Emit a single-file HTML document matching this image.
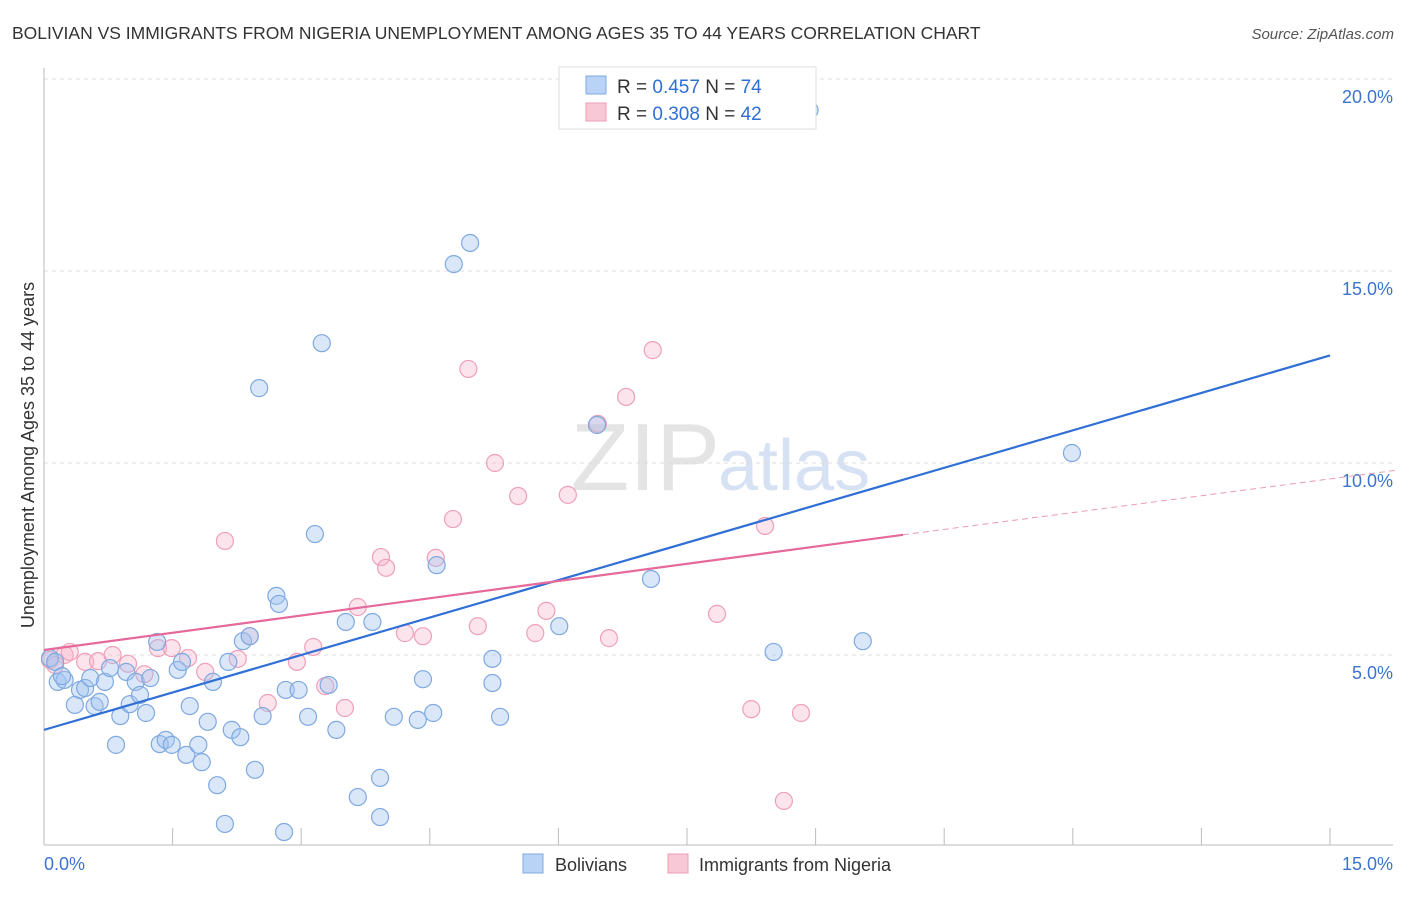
<!DOCTYPE html>
<html><head><meta charset="utf-8"><style>
body{margin:0;background:#fff;font-family:"Liberation Sans",sans-serif;}
svg text{font-family:"Liberation Sans",sans-serif;}
</style></head><body>
<svg id="chart" width="1406" height="892" xmlns="http://www.w3.org/2000/svg">
<text x="12" y="39" font-size="17.5" fill="#333">BOLIVIAN VS IMMIGRANTS FROM NIGERIA UNEMPLOYMENT AMONG AGES 35 TO 44 YEARS CORRELATION CHART</text>
<text x="1394" y="39" font-size="15" fill="#555" font-style="italic" text-anchor="end">Source: ZipAtlas.com</text>
<text x="720" y="490" font-size="96" fill="#e4e4e4" text-anchor="end" font-family="Liberation Serif">ZIP</text>
<text x="718" y="490" font-size="72" fill="#d6e2f3">atlas</text>
<g id="grid"></g><g id="axes"></g><g id="pts"></g><g id="lines"></g>
<text transform="translate(34,455) rotate(-90)" font-size="18" fill="#333" text-anchor="middle">Unemployment Among Ages 35 to 44 years</text>
<g>
<rect x="559" y="67" width="257" height="62" fill="#fff" stroke="#ddd"/>
<rect x="586" y="76" width="20" height="18" fill="#b8d3f5" stroke="#7fa9e0"/>
<rect x="586" y="103" width="20" height="18" fill="#f9c8d6" stroke="#ee9cb6"/>
<text x="617" y="93" font-size="19" fill="#333">R = <tspan fill="#2f6fd6">0.457</tspan>   N = <tspan fill="#2f6fd6">74</tspan></text>
<text x="617" y="120" font-size="19" fill="#333">R = <tspan fill="#2f6fd6">0.308</tspan>   N = <tspan fill="#2f6fd6">42</tspan></text>
</g>
<g>
<rect x="523" y="854" width="20" height="19" fill="#b8d3f5" stroke="#7fa9e0"/>
<text x="555" y="871" font-size="18" fill="#333">Bolivians</text>
<rect x="668" y="854" width="20" height="19" fill="#f9c8d6" stroke="#ee9cb6"/>
<text x="699" y="871" font-size="18" fill="#333">Immigrants from Nigeria</text>
</g>
</svg>
<script>
const blueX=[0.07,0.13,0.16,0.24,0.21,0.36,0.42,0.48,0.54,0.59,0.65,0.71,0.77,0.84,0.89,0.96,1.00,1.07,1.12,1.19,1.24,1.32,1.35,1.42,1.49,1.56,1.61,1.66,1.70,1.80,1.84,1.91,1.97,2.02,2.11,2.15,2.19,2.29,2.32,2.40,2.46,2.51,2.55,2.71,2.74,2.80,2.82,2.97,3.08,3.16,3.24,3.32,3.41,3.52,3.66,3.83,3.92,3.92,4.08,4.36,4.42,4.54,4.58,4.78,4.97,5.23,5.23,5.32,6.01,6.45,7.08,8.51,8.93,9.55,11.99];
const blueY=[4.92,4.82,4.30,4.35,4.45,3.70,4.09,4.14,4.40,3.67,3.78,4.30,4.66,2.66,3.41,4.56,3.72,4.30,3.96,3.49,4.40,5.34,2.68,2.79,2.66,4.61,4.82,2.40,3.67,2.66,2.21,3.26,4.30,1.61,0.60,4.82,3.05,2.86,5.36,5.49,2.01,11.95,3.41,6.54,6.33,0.39,4.09,4.09,3.39,8.15,13.12,4.22,3.05,5.86,1.30,5.86,1.80,0.78,3.39,3.31,4.37,3.49,7.34,15.18,15.73,4.90,4.27,3.39,5.75,10.99,6.98,5.08,19.19,5.36,10.26];
const pinkX=[0.07,0.13,0.24,0.30,0.48,0.63,0.80,0.98,1.17,1.33,1.49,1.68,1.88,2.11,2.26,2.40,2.61,2.95,3.14,3.28,3.51,3.66,3.93,3.99,4.21,4.42,4.57,4.77,4.95,5.06,5.26,5.53,5.73,5.86,6.11,6.46,6.59,6.79,7.10,7.85,8.25,8.41,8.63,8.83];
const pinkY=[4.87,4.74,5.00,5.08,4.82,4.84,5.00,4.77,4.50,5.18,5.18,4.92,4.56,7.97,4.90,5.49,3.75,4.82,5.21,4.19,3.62,6.25,7.55,7.27,5.57,5.49,7.53,8.54,12.45,5.75,10.00,9.14,5.57,6.15,9.17,11.02,5.44,11.72,12.94,6.07,3.59,8.36,1.20,3.49];
const blueTrend=[3.05,12.8]; // at x=0 and x=15
const pinkTrend=[5.13,8.13,9.82]; // at x=0, x=10.02 (solid end), x=15.8
const yTicks=[5,10,15,20];
const xTickLabels=["0.0%","15.0%"];
const NS="http://www.w3.org/2000/svg";
const sx=v=>44+v/15*1286, sy=v=>847-v*38.4;
function mk(t,a,p){const e=document.createElementNS(NS,t);for(const k in a)e.setAttribute(k,a[k]);p.appendChild(e);return e;}
const grid=document.getElementById('grid'),axes=document.getElementById('axes'),pts=document.getElementById('pts'),lines=document.getElementById('lines');
yTicks.forEach(t=>{
 const l=mk('line',{x1:44,x2:1393,y1:sy(t),y2:sy(t),stroke:'#ddd','stroke-dasharray':'4,4'},grid);
 
 
 const tx=mk('text',{x:1393,y:sy(t)+24,'font-size':18,fill:'#3d73cf','text-anchor':'end'},grid);
 tx.textContent=t.toFixed(1)+'%';
 
 
});
mk('line',{x1:44,x2:44,y1:68,y2:845,stroke:'#bbb'},axes);
mk('line',{x1:44,x2:1393,y1:845,y2:845,stroke:'#bbb'},axes);
for(let i=0;i<=10;i++){mk('line',{x1:sx(i*1.5),x2:sx(i*1.5),y1:828,y2:845,stroke:'#bbb'},axes);}
const xl0=mk('text',{x:44,y:870,'font-size':18,fill:'#3d73cf'},axes);xl0.textContent=xTickLabels[0];


const xl1=mk('text',{x:1393,y:870,'font-size':18,fill:'#3d73cf','text-anchor':'end'},axes);xl1.textContent=xTickLabels[1];


pinkX.forEach((x,i)=>{const c=mk('circle',{cx:sx(x),cy:sy(pinkY[i]),r:8.5,fill:'rgba(247,178,200,0.35)',stroke:'#ef9fb9','stroke-width':1.2},pts);
 
 });
blueX.forEach((x,i)=>{const c=mk('circle',{cx:sx(x),cy:sy(blueY[i]),r:8.5,fill:'rgba(160,196,240,0.4)',stroke:'#7fa9e0','stroke-width':1.2},pts);
 
 });
const bl=mk('line',{x1:sx(0),y1:sy(blueTrend[0]),x2:sx(15),y2:sy(blueTrend[1]),stroke:'#2f6fd6','stroke-width':2.2},lines);


const pl=mk('line',{x1:sx(0),y1:sy(pinkTrend[0]),x2:sx(10.02),y2:sy(pinkTrend[1]),stroke:'#e5699a','stroke-width':2.2},lines);


const pd=mk('line',{x1:sx(10.02),y1:sy(pinkTrend[1]),x2:sx(15.8),y2:sy(pinkTrend[2]),stroke:'#eb9ab8','stroke-width':1,'stroke-dasharray':'6,4'},lines);


</script>
</body></html>
